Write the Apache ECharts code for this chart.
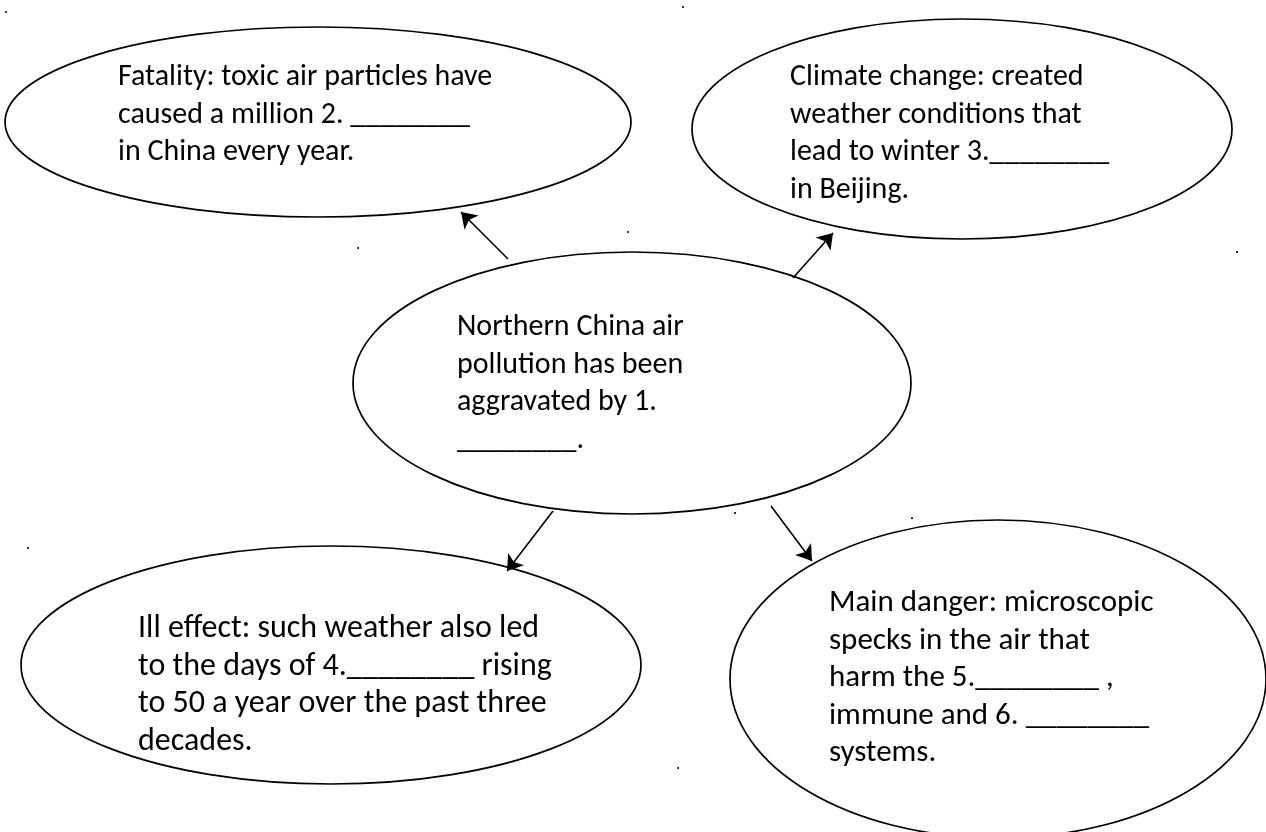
<!DOCTYPE html>
<html>
<head>
<meta charset="utf-8">
<script src="https://cdn.jsdelivr.net/npm/echarts@6/dist/echarts.min.js"></script>
<style>
html,body{margin:0;padding:0;background:#ffffff;}
#chart{width:1266px;height:832px;}
</style>
</head>
<body>
<div id="chart"></div>
<script>
// ---- content ----
const nodeNames = ['cause', 'fatality', 'climate', 'illEffect', 'danger'];
const nodeLines = [
  ['Northern China air', 'pollution has been', 'aggravated by 1.', '________.'],
  ['Fatality: toxic air particles have', 'caused a million 2. ________', 'in China every year.'],
  ['Climate change: created', 'weather conditions that', 'lead to winter 3.________', 'in Beijing.'],
  ['Ill effect: such weather also led', 'to the days of 4.________ rising', 'to 50 a year over the past three', 'decades.'],
  ['Main danger: microscopic', 'specks in the air that', 'harm the 5.________ ,', 'immune and 6. ________', 'systems.']
];
const links = [[0, 1], [0, 2], [0, 3], [0, 4]];

// ---- layout (diagram coordinates, 1266 x 832 space) ----
const nodeCenters = [[632, 383], [318, 122], [962, 129], [331, 665], [998, 679]];
const nodeRadii = [[279, 131], [313, 95], [270, 110], [310, 119], [268, 159]];
const textAnchors = [[457, 338], [118, 88], [790, 88], [138, 640], [829, 614]]; // left x, first baseline y
const nodeFontSizes = [30, 30, 30, 32, 31];
const arrowTails = [[508, 259], [793, 278], [553, 511], [771, 506]];
const arrowTips = [[461, 212], [833, 233], [507, 571], [812, 561]];
const specks = [[683, 7], [6, 12], [358, 248], [628, 232], [1237, 252], [28, 548], [735, 513], [912, 518], [678, 768]];

const FONT = 'Carlito, Lato, "Liberation Sans", sans-serif';
const LINE_H = 37.5;

const nodeData = nodeNames.map((n, i) => [nodeCenters[i][0], nodeCenters[i][1], nodeRadii[i][0], nodeRadii[i][1], textAnchors[i][0], textAnchors[i][1], i]);

const chart = echarts.init(document.getElementById('chart'), null, {renderer: 'canvas'});
chart.setOption({
  animation: false,
  backgroundColor: '#ffffff',
  grid: {left: 0, right: 0, top: 0, bottom: 0},
  xAxis: {type: 'value', min: 0, max: 1266, show: false},
  yAxis: {type: 'value', min: 0, max: 832, inverse: true, show: false},
  series: [
    {
      type: 'custom',
      coordinateSystem: 'cartesian2d',
      data: nodeData,
      renderItem: function (params, api) {
        const c = api.coord([api.value(0), api.value(1)]);
        const e = api.coord([api.value(0) + api.value(2), api.value(1) + api.value(3)]);
        const t = api.coord([api.value(4), api.value(5)]);
        const idx = api.value(6);
        const fs = nodeFontSizes[idx];
        return {
          type: 'group',
          children: [
            {
              type: 'ellipse',
              shape: {cx: c[0], cy: c[1], rx: Math.abs(e[0] - c[0]), ry: Math.abs(e[1] - c[1])},
              style: {fill: '#ffffff', stroke: '#000000', lineWidth: 1.7}
            },
            {
              type: 'text',
              x: t[0],
              y: t[1] - (LINE_H / 2 + fs * 0.34),
              style: {
                text: nodeLines[idx].join('\n'),
                fill: '#000000',
                fontFamily: FONT,
                fontSize: fs,
                lineHeight: LINE_H,
                align: 'left',
                verticalAlign: 'top'
              }
            }
          ]
        };
      }
    },
    {
      type: 'lines',
      coordinateSystem: 'cartesian2d',
      symbol: ['none', 'arrow'],
      symbolSize: 15,
      lineStyle: {color: '#000000', width: 1.6, curveness: 0, opacity: 1},
      data: links.map((l, i) => ({coords: [arrowTails[i], arrowTips[i]]}))
    },
    {
      type: 'scatter',
      symbol: 'rect',
      symbolSize: 2,
      itemStyle: {color: '#000000'},
      data: specks
    }
  ]
});
</script>
</body>
</html>
